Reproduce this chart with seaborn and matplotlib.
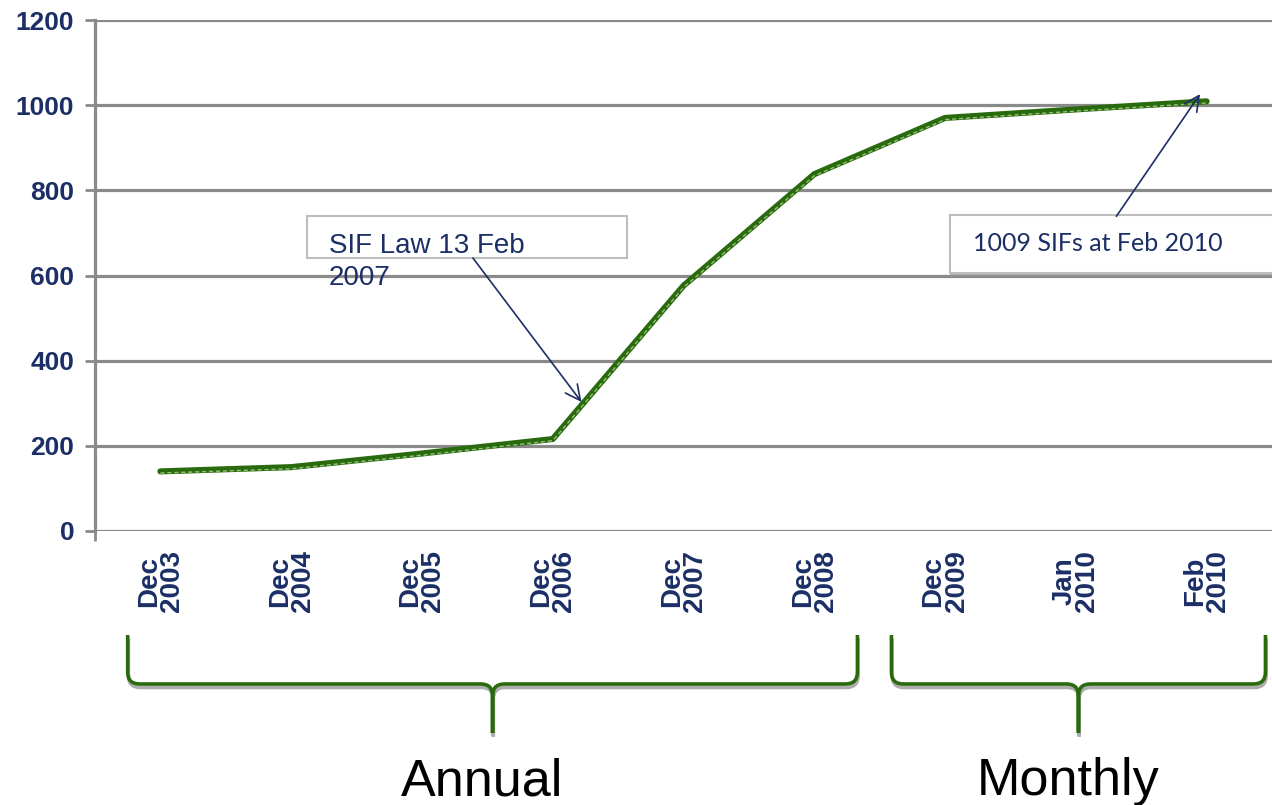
import numpy as np
import pandas as pd
import matplotlib
matplotlib.use("Agg")
import matplotlib.pyplot as plt
import matplotlib.transforms as mtransforms
import matplotlib.patheffects as pe
from matplotlib.path import Path
from matplotlib.patches import PathPatch, Rectangle
import seaborn as sns

# data
periods = ["Dec 2003", "Dec 2004", "Dec 2005", "Dec 2006", "Dec 2007",
           "Dec 2008", "Dec 2009", "Jan 2010", "Feb 2010"]
sif_counts = [140, 150, 182, 216, 576, 838, 970, 990, 1009]
y_ticks = [0, 200, 400, 600, 800, 1000, 1200]
groups = ["Annual", "Monthly"]
group_spans = [(0, 5), (6, 8)]

law_note = "SIF Law 13 Feb\n2007"
total_note = "1009 SIFs at Feb 2010"

navy = "#1b2f66"
green = "#2a6a0e"
grid_grey = "#8a8a8a"

sns.set_theme(style="whitegrid")
plt.rcParams["font.family"] = ["Liberation Sans", "DejaVu Sans"]

df = pd.DataFrame({"period": periods, "sifs": sif_counts})

fig = plt.figure(figsize=(12.72, 8.05), dpi=100)
ax = fig.add_axes([95 / 1272, 274 / 805, 1 - 95 / 1272, 511 / 805])
ax.set_facecolor("white")

sns.lineplot(data=df, x="period", y="sifs", sort=False, ax=ax,
             color=green, linewidth=4.4, solid_capstyle="round", zorder=3)
# light dashed highlight along the lower edge of the line
sns.lineplot(data=df, x="period", y="sifs", sort=False, ax=ax,
             color="#93c276", linewidth=1.0, zorder=4)
hl = ax.lines[-1]
hl.set_dashes((3, 2))
hl.set_path_effects([pe.Stroke(offset=(0, -1.2))])

ax.set_xlim(-0.5, len(periods) - 0.5)
ax.set_ylim(0, 1200)
ax.set_yticks(y_ticks)
ax.set_xticks(range(len(periods)))
ax.set_xticklabels([p.replace(" ", "\n") for p in periods], rotation=90,
                   fontsize=20, fontweight="bold", color=navy,
                   linespacing=0.85, multialignment="center")
ax.set_yticklabels([str(v) for v in y_ticks], fontsize=19,
                   fontweight="bold", color=navy)
ax.set_xlabel("")
ax.set_ylabel("")

ax.grid(axis="y", color=grid_grey, linewidth=2.3)
ax.grid(axis="x", visible=False)
ax.tick_params(axis="y", length=7, width=2, color=grid_grey, pad=8, left=True)
ax.tick_params(axis="x", length=0, pad=14)
ax.set_xticks([-0.5], minor=True)
ax.tick_params(axis="x", which="minor", length=7, width=2, color=grid_grey,
               bottom=True)
for side in ["top", "right", "bottom"]:
    ax.spines[side].set_visible(False)
ax.spines["left"].set_color(grid_grey)
ax.spines["left"].set_linewidth(2.3)

# callout 1: law date (second line spills out of the box, as in the original)
ax.add_patch(Rectangle((1.12, 641), 2.45, 98, facecolor="white",
                       edgecolor="#bdbdbd", linewidth=1.5, zorder=5))
ax.text(1.29, 700, law_note, fontsize=20, color=navy, va="top",
        ha="left", linespacing=1.3, zorder=6)
ax.annotate("", xy=(3.22, 303), xytext=(2.39, 641), zorder=6,
            arrowprops=dict(arrowstyle="->,head_length=0.9,head_width=0.45",
                            color=navy, linewidth=1.2,
                            shrinkA=0, shrinkB=0))

# callout 2: latest count
ax.add_patch(Rectangle((6.04, 606), 2.6, 136, facecolor="white",
                       edgecolor="#bdbdbd", linewidth=1.5, zorder=5,
                       clip_on=False,
                       path_effects=[pe.SimplePatchShadow(offset=(0, -2),
                                                          shadow_rgbFace="#9a9a9a",
                                                          alpha=0.8),
                                     pe.Normal()]))
ax.text(6.21, 657, total_note, fontsize=18, color=navy, va="baseline",
        ha="left", family=["Lato", "DejaVu Sans"], zorder=6)
ax.annotate("", xy=(7.95, 1026), xytext=(7.31, 739), zorder=6,
            arrowprops=dict(arrowstyle="->,head_length=0.9,head_width=0.45",
                            color=navy, linewidth=1.2,
                            shrinkA=0, shrinkB=0))

# braces under the axis marking annual vs monthly points
trans = mtransforms.blended_transform_factory(ax.transData, fig.transFigure)
y_top, y_mid, y_tip = 1 - 635 / 805, 1 - 684 / 805, 1 - 733 / 805
rx, ry = 0.09, 12 / 805


def draw_brace(x0, x1):
    xm = (x0 + x1) / 2
    verts = [(x0, y_top), (x0, y_mid + ry), (x0, y_mid), (x0 + rx, y_mid),
             (xm - rx, y_mid), (xm, y_mid), (xm, y_mid - ry), (xm, y_tip),
             (xm, y_mid - ry), (xm, y_mid), (xm + rx, y_mid),
             (x1 - rx, y_mid), (x1, y_mid), (x1, y_mid + ry), (x1, y_top)]
    codes = [Path.MOVETO, Path.LINETO, Path.CURVE3, Path.CURVE3,
             Path.LINETO, Path.CURVE3, Path.CURVE3, Path.LINETO,
             Path.LINETO, Path.CURVE3, Path.CURVE3,
             Path.LINETO, Path.CURVE3, Path.CURVE3, Path.LINETO]
    patch = PathPatch(Path(verts, codes), transform=trans, fill=False,
                      edgecolor=green, linewidth=2.6, clip_on=False,
                      path_effects=[pe.SimpleLineShadow(offset=(0.5, -2.5),
                                                        shadow_color="#8a8a8a",
                                                        alpha=0.7),
                                    pe.Normal()])
    fig.add_artist(patch)
    return xm


brace_pad = {"Annual": (0.25, 0.33), "Monthly": (0.41, 0.45)}
for name, (first, last) in zip(groups, group_spans):
    left_pad, right_pad = brace_pad[name]
    xm = draw_brace(first - left_pad, last + right_pad)
    fig.text(ax.transData.transform((xm, 0))[0] / fig.bbox.width - 0.008,
             10 / 805, name, fontsize=37.5, color="black", ha="center",
             va="baseline")

fig.savefig("out.png", dpi=100)
